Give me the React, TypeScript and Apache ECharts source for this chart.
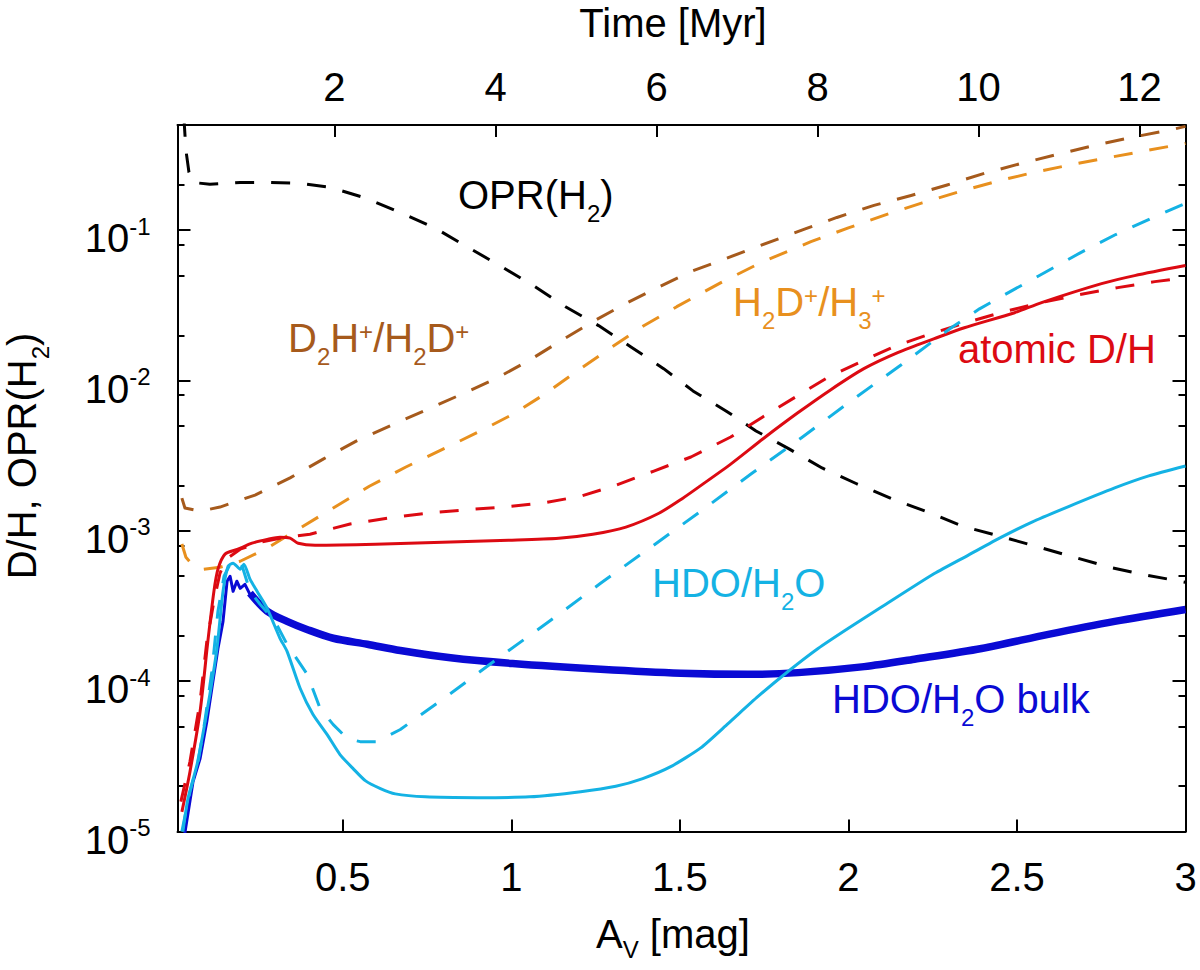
import * as echarts from "echarts";
import { useEffect, useRef } from "react";

// [A_V (mag), ratio] pairs
const oprH2: [number, number][] = [
	[0.029, 0.56], [0.035, 0.34], [0.044, 0.243], [0.056, 0.208], [0.106, 0.202], [0.196, 0.208],
	[0.285, 0.208], [0.374, 0.205], [0.463, 0.193], [0.57, 0.163], [0.671, 0.131], [0.775, 0.103],
	[0.873, 0.0767], [0.971, 0.0573], [1.066, 0.0428], [1.161, 0.031], [1.259, 0.0232], [1.354, 0.0168],
	[1.452, 0.012], [1.539, 0.00853], [1.637, 0.00628], [1.726, 0.00462], [1.824, 0.00351], [1.922, 0.00262],
	[2.026, 0.00205], [2.13, 0.00163], [2.237, 0.00133], [2.341, 0.00107], [2.451, 9.2e-4], [2.564, 7.8e-4],
	[2.668, 6.7e-4], [2.778, 5.7e-4], [2.885, 5.07e-4], [3.0, 4.55e-4],
];

const d2hOverH2d: [number, number][] = [
	[0.023, 1.65e-3], [0.032, 1.42e-3], [0.077, 1.35e-3], [0.136, 1.44e-3], [0.24, 1.73e-3], [0.344, 2.25e-3],
	[0.442, 3.0e-3], [0.54, 3.95e-3], [0.647, 5.07e-3], [0.748, 6.38e-3], [0.849, 8.04e-3], [0.953, 0.01026],
	[1.051, 0.01353], [1.149, 0.01850], [1.244, 0.02480], [1.345, 0.0330], [1.443, 0.0425], [1.532, 0.0530],
	[1.874, 0.1026], [1.966, 0.1216], [2.076, 0.1463], [2.186, 0.1703], [2.293, 0.2000], [2.403, 0.2389],
	[2.514, 0.2787], [2.621, 0.3200], [2.731, 0.367], [2.841, 0.4150], [2.951, 0.4624], [3.0, 0.491],
];

const h2dOverH3: [number, number][] = [
	[0.023, 8.17e-4], [0.035, 6.68e-4], [0.053, 6.0e-4], [0.085, 5.55e-4], [0.136, 5.73e-4], [0.196, 6.28e-4],
	[0.276, 7.67e-4], [0.368, 1.026e-3], [0.472, 1.42e-3], [0.579, 1.98e-3], [0.686, 2.65e-3], [0.799, 3.51e-3],
	[0.903, 4.55e-3], [1.007, 6.0e-3], [1.105, 8.28e-3], [1.2, 0.01178], [1.295, 0.01650], [1.393, 0.02317],
	[1.491, 0.031], [1.622, 0.0448], [1.741, 0.0610], [1.889, 0.0840], [2.002, 0.104], [2.112, 0.127],
	[2.219, 0.152], [2.335, 0.182], [2.442, 0.212], [2.552, 0.243], [2.665, 0.274], [2.775, 0.305],
	[2.888, 0.34], [3.0, 0.378],
];

const atomicDHDashed: [number, number][] = [
	[0.02, 1.58e-5], [0.047, 2.92e-5], [0.077, 7.33e-5], [0.097, 1.84e-4], [0.118, 3.4e-4], [0.136, 5.22e-4],
	[0.154, 6.48e-4], [0.196, 7.55e-4], [0.255, 8.41e-4], [0.314, 8.94e-4], [0.403, 9.5e-4], [0.522, 1.11e-3],
	[0.638, 1.22e-3], [0.748, 1.31e-3], [0.864, 1.38e-3], [0.977, 1.44e-3], [1.093, 1.53e-3], [1.206, 1.7e-3],
	[1.313, 2.02e-3], [1.423, 2.5e-3], [1.533, 3.1e-3], [1.651, 4.21e-3], [1.746, 5.73e-3], [1.844, 7.79e-3],
	[1.942, 0.0106], [2.043, 0.01353], [2.141, 0.01703], [2.245, 0.02047], [2.349, 0.02427], [2.462, 0.02870],
	[2.573, 0.0330], [2.686, 0.0373], [2.799, 0.0415], [2.909, 0.0455], [3.0, 0.0484],
];

const atomicDH: [number, number][] = [
	[0.023, 1.35e-5], [0.047, 2.5e-5], [0.077, 6.28e-5], [0.1, 1.84e-4], [0.118, 3.96e-4], [0.13, 5.56e-4],
	[0.151, 7.0e-4], [0.189, 7.55e-4], [0.231, 8.28e-4], [0.279, 8.81e-4], [0.314, 9.08e-4], [0.344, 8.94e-4],
	[0.368, 8.28e-4], [0.418, 8.03e-4], [0.597, 8.15e-4], [0.796, 8.41e-4], [0.992, 8.67e-4], [1.141, 8.94e-4],
	[1.242, 9.5e-4], [1.34, 1.06e-3], [1.438, 1.31e-3], [1.509, 1.65e-3], [1.562, 2.0e-3], [1.651, 2.78e-3],
	[1.75, 4.15e-3], [1.85, 6.1e-3], [1.948, 8.7e-3], [2.046, 0.0120], [2.148, 0.01540], [2.255, 0.01900],
	[2.344, 0.02246], [2.493, 0.02826], [2.573, 0.033], [2.751, 0.0441], [2.849, 0.0499], [3.0, 0.0582],
];

const hdoH2ODashed: [number, number][] = [
	[0.023, 1.0e-5], [0.047, 1.84e-5], [0.071, 2.92e-5], [0.091, 5.39e-5], [0.112, 1.16e-4], [0.13, 2.92e-4],
	[0.148, 4.99e-4], [0.166, 6.0e-4], [0.184, 5.39e-4], [0.202, 5.82e-4], [0.225, 3.96e-4], [0.255, 3.25e-4],
	[0.299, 2.5e-4], [0.335, 1.76e-4], [0.395, 1.11e-4], [0.433, 6.58e-5], [0.472, 5.14e-5], [0.514, 4.15e-5],
	[0.552, 3.96e-5], [0.603, 3.96e-5], [0.641, 4.41e-5], [0.671, 4.77e-5], [0.82, 8.28e-5], [0.968, 1.46e-4],
	[1.117, 2.54e-4], [1.265, 4.48e-4], [1.414, 7.78e-4], [1.562, 1.35e-3], [1.711, 2.39e-3], [1.86, 4.15e-3],
	[2.008, 7.33e-3], [2.157, 0.01274], [2.305, 0.02246], [2.389, 0.0300], [2.484, 0.0395], [2.588, 0.0531],
	[2.689, 0.0710], [2.793, 0.0936], [2.897, 0.1196], [3.0, 0.151],
];

const hdoH2O: [number, number][] = [
	[0.026, 1.0e-5], [0.041, 1.65e-5], [0.068, 2.79e-5], [0.085, 4.41e-5], [0.106, 8.15e-5], [0.127, 1.65e-4],
	[0.145, 3.96e-4], [0.16, 5.82e-4], [0.175, 6.1e-4], [0.196, 5.56e-4], [0.207, 6.0e-4], [0.225, 4.77e-4],
	[0.246, 3.96e-4], [0.276, 3.05e-4], [0.314, 1.93e-4], [0.335, 1.58e-4], [0.374, 8.94e-5], [0.412, 6.0e-5],
	[0.454, 4.41e-5], [0.492, 3.25e-5], [0.531, 2.62e-5], [0.567, 2.18e-5], [0.612, 1.93e-5], [0.656, 1.78e-5],
	[0.745, 1.7e-5], [0.9, 1.68e-5], [1.054, 1.7e-5], [1.206, 1.84e-5], [1.31, 2.0e-5], [1.39, 2.25e-5],
	[1.473, 2.7e-5], [1.562, 3.6e-5], [1.643, 5.22e-5], [1.732, 7.91e-5], [1.821, 1.16e-4], [1.91, 1.65e-4],
	[2.0, 2.25e-4], [2.097, 3.1e-4], [2.255, 5.2e-4], [2.356, 6.9e-4], [2.454, 9.08e-4], [2.543, 1.14e-3],
	[2.653, 1.45e-3], [2.79, 1.93e-3], [2.891, 2.32e-3], [3.0, 2.7e-3],
];

const hdoBulkEarly: [number, number][] = [
	[0.031, 9.5e-6], [0.056, 2.14e-5], [0.077, 3.06e-5], [0.097, 5.39e-5], [0.115, 9.95e-5], [0.13, 1.65e-4],
	[0.145, 2.5e-4], [0.157, 4.62e-4], [0.166, 4.99e-4], [0.175, 3.96e-4], [0.186, 4.62e-4], [0.196, 4.15e-4],
	[0.21, 4.41e-4], [0.225, 3.78e-4], [0.24, 3.61e-4],
];

const hdoBulk: [number, number][] = [
	[0.225, 3.85e-4], [0.276, 2.92e-4], [0.335, 2.5e-4], [0.394, 2.21e-4], [0.472, 1.93e-4], [0.573, 1.76e-4],
	[0.671, 1.6e-4], [0.82, 1.43e-4], [1.004, 1.31e-4], [1.265, 1.2e-4], [1.503, 1.13e-4], [1.702, 1.11e-4],
	[1.851, 1.14e-4], [2.047, 1.25e-4], [2.196, 1.4e-4], [2.395, 1.65e-4], [2.593, 2.05e-4], [2.79, 2.5e-4],
	[3.0, 3.0e-4],
];

const avTicks = [0.5, 1, 1.5, 2, 2.5, 3];
const timeTicks = [2, 4, 6, 8, 10, 12];
const decades = [-5, -4, -3, -2, -1];
const minorMultipliers = [2, 5, 8];

const FONT = "'Liberation Sans', Arial, Helvetica, sans-serif";
const BROWN = "#a65a1c";
const ORANGE = "#e8901e";
const RED = "#dc0a12";
const CYAN = "#14b2e4";
const BLUE = "#0a0ad4";
const DASH = [19, 17];

const minorTicks = decades
	.flatMap((d) => minorMultipliers.map((m) => d + Math.log10(m)))
	.filter((v) => v <= -0.3);

const toLog = (d: [number, number][]) => d.map(([a, v]) => [a, Math.log10(v)]);

function line(
	name: string,
	data: [number, number][],
	color: string,
	width: number,
	dashed: boolean,
	smooth: number | false,
) {
	return {
		name,
		type: "line",
		data: toLog(data),
		showSymbol: false,
		symbol: "none",
		clip: true,
		smooth,
		lineStyle: { color, width, type: dashed ? DASH : "solid", cap: "butt", join: "round" },
	};
}

// sub- and superscripts are shifted with padding inside a 40px line
const supSub = {
	sub: { fontSize: 24, padding: [36, 0, 0, 0] },
	sup: { fontSize: 24, padding: [0, 0, 14, 0] },
};

function label(text: string, x: number, y: number, color: string) {
	return {
		type: "text",
		x,
		y,
		style: {
			text,
			fill: color,
			fontSize: 40,
			lineHeight: 40,
			fontFamily: FONT,
			align: "left",
			verticalAlign: "middle",
			rich: supSub,
		},
	};
}

export default function App() {
	const chartRef = useRef<HTMLDivElement>(null);

	useEffect(() => {
		if (!chartRef.current) return;
		const chart = echarts.init(chartRef.current, undefined, { renderer: "svg" });

		const frameLine = { show: true, onZero: false, lineStyle: { color: "#000", width: 2 } };
		const tick = (values: number[], length: number) => ({
			show: true,
			inside: true,
			length,
			customValues: values,
			lineStyle: { color: "#000", width: 2 },
		});
		const tickFont = { color: "#000", fontSize: 40, lineHeight: 40, fontFamily: FONT };

		chart.setOption({
			animation: false,
			backgroundColor: "#fff",
			grid: { left: 177.5, right: 14.5, top: 125, bottom: 138.5 },
			xAxis: [
				{
					type: "value",
					position: "bottom",
					min: 0.01,
					max: 3,
					axisLine: frameLine,
					axisTick: tick(avTicks, 12),
					axisLabel: { ...tickFont, customValues: avTicks, margin: 25 },
					splitLine: { show: false },
				},
				{
					type: "value",
					position: "top",
					min: 0.05,
					max: 12.57,
					axisLine: frameLine,
					axisTick: tick(timeTicks, 12),
					axisLabel: { ...tickFont, customValues: timeTicks, margin: 18 },
					splitLine: { show: false },
				},
			],
			yAxis: [
				{
					type: "value",
					position: "left",
					min: -5,
					max: -0.3,
					axisLine: frameLine,
					axisTick: tick(decades, 13),
					axisLabel: {
						customValues: decades,
						margin: 27,
						padding: [16, 0, 0, 0],
						color: "#000",
						fontFamily: FONT,
						lineHeight: 40,
						formatter: (v: number) => `{b|10}{s|${Math.round(v)}}`,
						rich: {
							b: { fontSize: 40, lineHeight: 40, fontFamily: FONT, color: "#000" },
							s: { fontSize: 24, lineHeight: 40, padding: [0, 0, 24, 0], fontFamily: FONT, color: "#000" },
						},
					},
					splitLine: { show: false },
				},
				{
					type: "value",
					position: "right",
					min: -5,
					max: -0.3,
					axisLine: frameLine,
					axisTick: tick(decades, 13),
					axisLabel: { show: false },
					splitLine: { show: false },
				},
				{
					type: "value",
					position: "left",
					min: -5,
					max: -0.3,
					axisLine: { show: false },
					axisTick: tick(minorTicks, 7),
					axisLabel: { show: false },
					splitLine: { show: false },
				},
				{
					type: "value",
					position: "right",
					min: -5,
					max: -0.3,
					axisLine: { show: false },
					axisTick: tick(minorTicks, 7),
					axisLabel: { show: false },
					splitLine: { show: false },
				},
			],
			series: [
				line("OPR(H2)", oprH2, "#000", 3, true, false),
				line("D2H+/H2D+", d2hOverH2d, BROWN, 3, true, false),
				line("H2D+/H3+", h2dOverH3, ORANGE, 3, true, false),
				line("atomic D/H (dashed)", atomicDHDashed, RED, 3, true, false),
				line("atomic D/H", atomicDH, RED, 3, false, 0.25),
				line("HDO/H2O bulk", hdoBulk, BLUE, 7.5, false, 0.3),
				line("HDO/H2O bulk (early)", hdoBulkEarly, BLUE, 3, false, false),
				line("HDO/H2O (dashed)", hdoH2ODashed, CYAN, 3, true, false),
				line("HDO/H2O", hdoH2O, CYAN, 3, false, 0.2),
			],
			graphic: [
				{
					type: "text",
					x: 673,
					y: 23,
					style: { text: "Time [Myr]", fill: "#000", fontSize: 40, fontFamily: FONT, align: "center", verticalAlign: "middle" },
				},
				{
					type: "text",
					x: 596,
					y: 934,
					style: {
						text: "A{sub|V} [mag]",
						fill: "#000",
						fontSize: 40,
						lineHeight: 40,
						fontFamily: FONT,
						align: "left",
						verticalAlign: "middle",
						rich: { sub: { fontSize: 24, padding: [30, 0, 0, 0] } },
					},
				},
				{
					type: "text",
					x: 22,
					y: 456,
					rotation: Math.PI / 2,
					style: {
						text: "D/H, OPR(H{sub|2})",
						fill: "#000",
						fontSize: 40,
						lineHeight: 40,
						fontFamily: FONT,
						align: "center",
						verticalAlign: "middle",
						rich: supSub,
					},
				},
				label("OPR(H{sub|2})", 458, 195, "#000"),
				label("D{sub|2}H{sup|+}/H{sub|2}D{sup|+}", 288, 338, BROWN),
				label("H{sub|2}D{sup|+}/H{sub|3}{sup|+}", 733, 302, ORANGE),
				label("atomic D/H", 958, 349, RED),
				label("HDO/H{sub|2}O", 652, 583, CYAN),
				label("HDO/H{sub|2}O bulk", 832, 699, BLUE),
			],
		});

		const onResize = () => chart.resize();
		window.addEventListener("resize", onResize);
		return () => {
			window.removeEventListener("resize", onResize);
			chart.dispose();
		};
	}, []);

	return <div ref={chartRef} style={{ position: "absolute", left: 0, top: 0, width: 1200, height: 970 }} />;
}
